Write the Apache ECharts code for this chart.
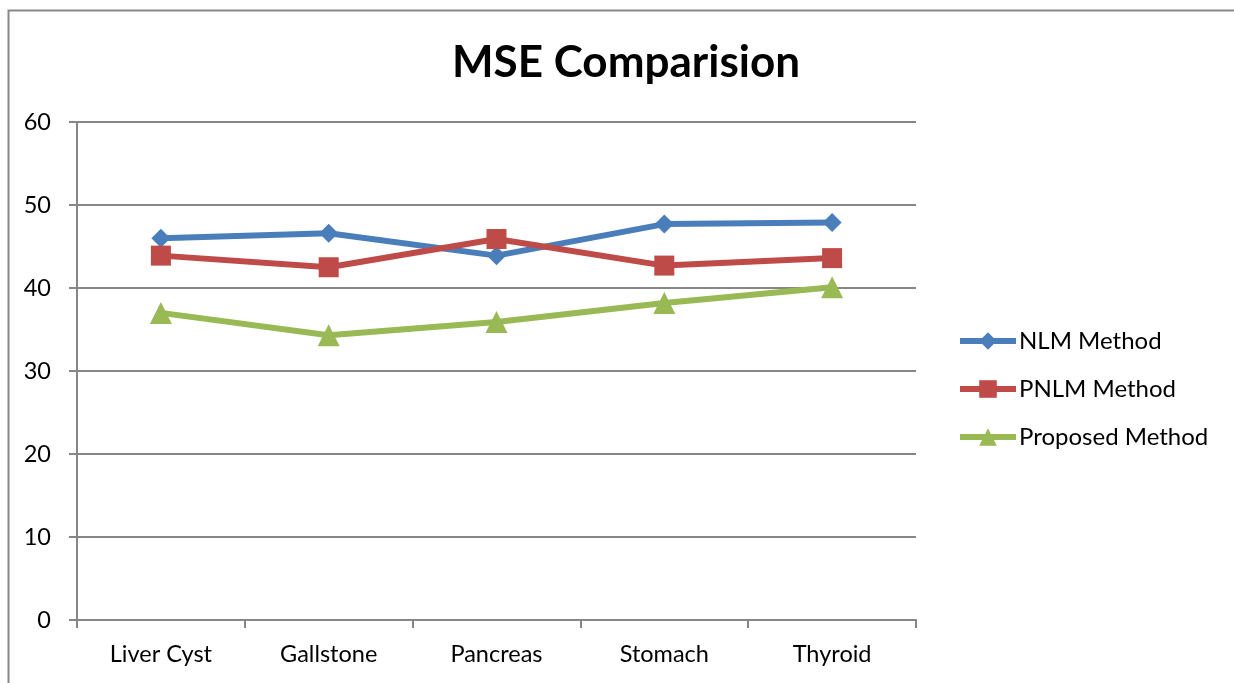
<!DOCTYPE html>
<html><head><meta charset="utf-8">
<script src="https://cdn.jsdelivr.net/npm/echarts@6/dist/echarts.min.js"></script>
<style>html,body{margin:0;padding:0;background:#fff}#c{width:1234px;height:683px}</style>
</head><body><div id="c"></div>
<script>
const categories = ['Liver Cyst','Gallstone','Pancreas','Stomach','Thyroid'];
const nlm = [46.0, 46.6, 43.9, 47.7, 47.9];
const pnlm = [43.9, 42.5, 45.9, 42.7, 43.6];
const proposed = [37.0, 34.3, 35.9, 38.2, 40.1];
const yTicks = [0,10,20,30,40,50,60];
const FONT = 'Lato, "Open Sans", sans-serif';
const chart = echarts.init(document.getElementById('c'), null, {renderer:'canvas'});
function s(name, data, color, symbol, size){
  return {name, type:'line', data, symbol, symbolSize:size, showSymbol:true,
    lineStyle:{color, width:6}, itemStyle:{color}, emphasis:{disabled:true}, z:3};
}
chart.setOption({
  animation:false,
  graphic:[{type:'rect', shape:{x:8.5,y:10.5,width:1240,height:700}, style:{fill:'none', stroke:'#878787', lineWidth:2}, silent:true}],
  title:{text:'MSE Comparision', left:621, top:36, textAlign:'center',
    textStyle:{fontFamily:FONT, fontSize:44, fontWeight:'bold', color:'#000'}},
  grid:{left:77, right:318, top:122, bottom:63, containLabel:false},
  xAxis:{type:'category', data:categories, boundaryGap:true,
    axisLine:{lineStyle:{color:'#868686', width:2}},
    axisTick:{show:true, length:8, lineStyle:{color:'#868686', width:2}, alignWithLabel:false},
    axisLabel:{fontFamily:FONT, fontSize:23.5, color:'#000', margin:22}},
  yAxis:{type:'value', min:0, max:60, interval:10,
    axisLine:{show:true, lineStyle:{color:'#868686', width:2}},
    axisTick:{show:true, length:8, lineStyle:{color:'#868686', width:2}},
    splitLine:{lineStyle:{color:'#868686', width:2}},
    axisLabel:{fontFamily:FONT, fontSize:23.5, color:'#000', margin:26,
      formatter:v=> yTicks.includes(v)? String(v):''}},
  legend:{orient:'vertical', left:957, top:329, padding:0, itemGap:24, itemWidth:56, itemHeight:22,
    lineStyle:{width:6},
    textStyle:{fontFamily:FONT, fontSize:24, color:'#000', padding:[0,0,0,-2]},
    data:['NLM Method','PNLM Method','Proposed Method']},
  series:[
    s('NLM Method', nlm, '#4A7EBB', 'diamond', 19),
    s('PNLM Method', pnlm, '#BE4B48', 'rect', 20),
    s('Proposed Method', proposed, '#98B954', 'triangle', 22)
  ]
});
</script></body></html>
